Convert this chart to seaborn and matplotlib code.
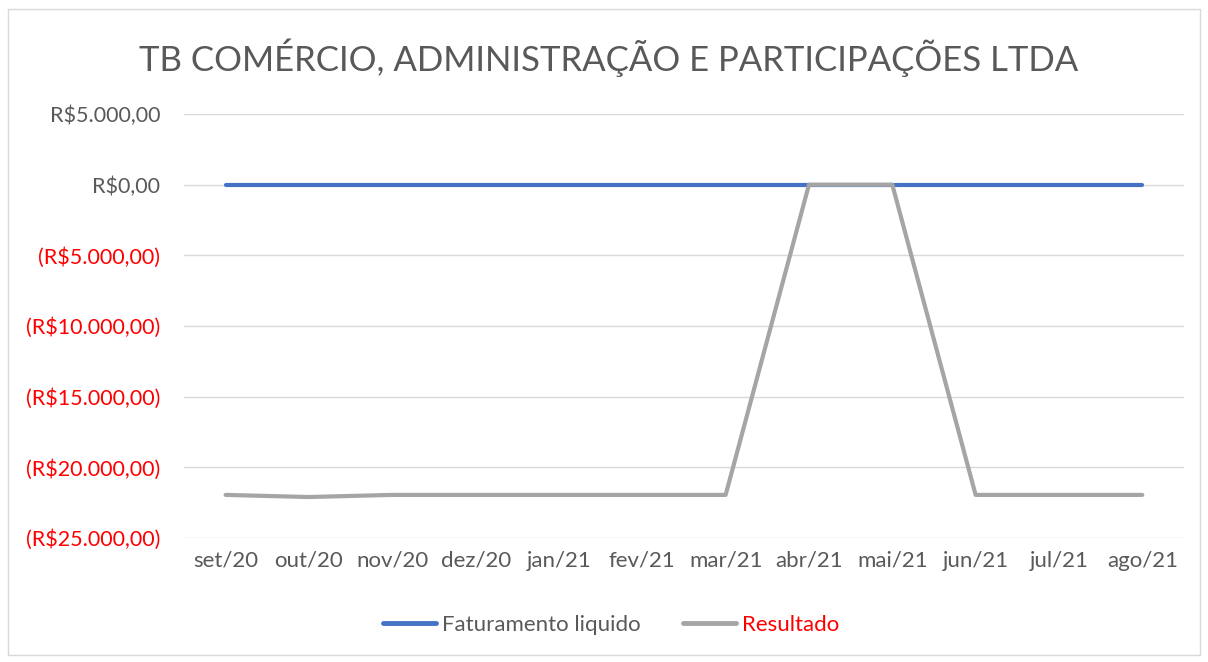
import numpy as np
import pandas as pd
from matplotlib import pyplot as plt
from matplotlib.patches import Rectangle
import seaborn as sns

months = ['set/20', 'out/20', 'nov/20', 'dez/20', 'jan/21', 'fev/21',
          'mar/21', 'abr/21', 'mai/21', 'jun/21', 'jul/21', 'ago/21']
faturamento = [0, 0, 0, 0, 0, 0, 0, 0, 0, 0, 0, 0]
resultado = [-21950, -22100, -21950, -21950, -21950, -21950,
             -21950, 0, 0, -21950, -21950, -21950]
yticks = [5000, 0, -5000, -10000, -15000, -20000, -25000]

sns.set_style('white')
plt.rcParams['font.family'] = ['Lato', 'DejaVu Sans']

df = pd.DataFrame({'pos': range(len(months)), 'mes': months,
                   'Faturamento liquido': faturamento, 'Resultado': resultado})

fig = plt.figure(figsize=(12.08, 6.62), dpi=100)
ax = fig.add_axes([0.1523, 0.1873, 0.8278, 0.6405])

sns.lineplot(data=df, x='pos', y='Faturamento liquido', ax=ax, color='#4472C4',
             linewidth=3, label='Faturamento liquido', sort=False)
sns.lineplot(data=df, x='pos', y='Resultado', ax=ax, color='#A5A5A5',
             linewidth=3, label='Resultado', sort=False)
for line in ax.lines:
    line.set_solid_capstyle('round')
    line.set_solid_joinstyle('round')

ax.set_xlim(-0.5, len(months) - 0.5)
ax.set_ylim(-25000, 5000)
ax.set_xticks(range(len(months)))
ax.set_xticklabels(months)
ax.set_yticks(yticks)


def fmt(v):
    s = '{:,.2f}'.format(abs(v)).replace(',', 'X').replace('.', ',').replace('X', '.')
    return 'R$' + s if v >= 0 else '(R$' + s + ')'


ax.set_yticklabels([fmt(v) for v in yticks])
ax.tick_params(axis='x', length=0, labelsize=16, pad=9)
ax.tick_params(axis='y', length=0, labelsize=15.5, pad=17)
for lbl, v in zip(ax.get_yticklabels(), yticks):
    lbl.set_color('#595959' if v >= 0 else '#FF0000')
for lbl in ax.get_xticklabels():
    lbl.set_color('#595959')
ax.set_xlabel('')
ax.set_ylabel('')
ax.yaxis.grid(True, color='#D9D9D9', linewidth=1)
ax.set_axisbelow(True)
for sp in ax.spines.values():
    sp.set_visible(False)

fig.text(0.504, 0.913, 'TB COMÉRCIO, ADMINISTRAÇÃO E PARTICIPAÇÕES LTDA',
         ha='center', va='center', fontsize=25, color='#595959')

leg = ax.legend(loc='upper center', bbox_to_anchor=(0.427, -0.135), ncol=2,
                frameon=False, fontsize=16, handlelength=2.4, columnspacing=1.9,
                handletextpad=0.27)
leg.get_texts()[0].set_color('#595959')
leg.get_texts()[1].set_color('#FF0000')
for h in leg.get_lines():
    h.set_linewidth(3.5)

fig.patches.append(Rectangle((8 / 1208, 7 / 662), 1192 / 1208, 646 / 662,
                             transform=fig.transFigure, fill=False,
                             edgecolor='#D9D9D9', linewidth=1))

plt.savefig('out.png', dpi=100)
